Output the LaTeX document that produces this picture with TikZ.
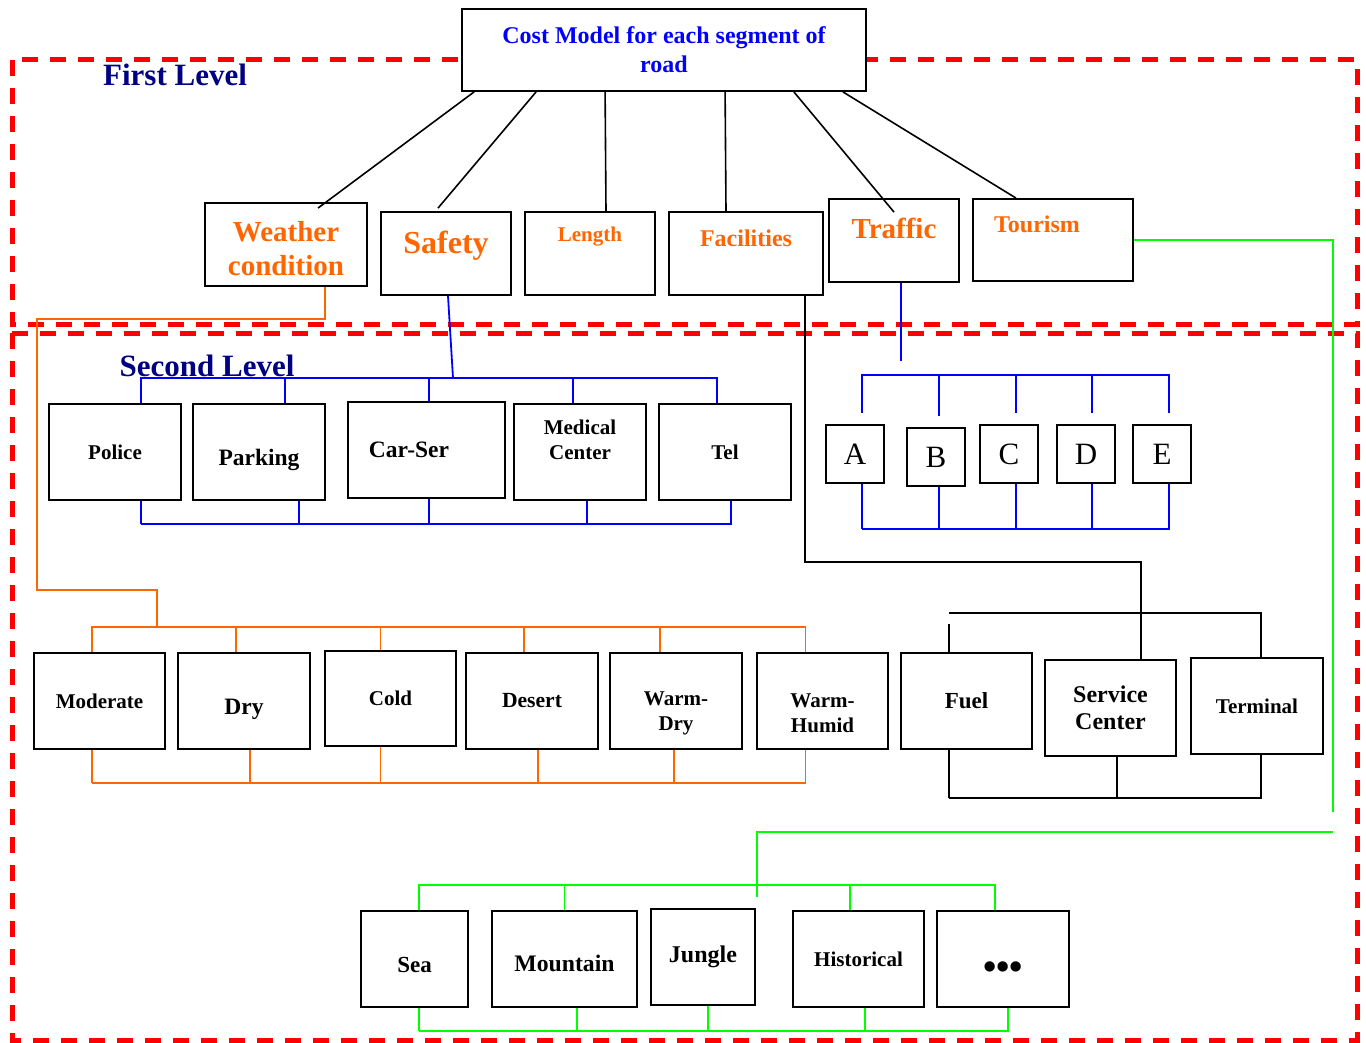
\documentclass[tikz,border=0pt]{standalone}
\usepackage{fontspec}
\setmainfont{Liberation Serif}
\usepackage{tikz}
\usepackage{xcolor}
\definecolor{orng}{HTML}{FF6600}
\definecolor{navy}{HTML}{000080}
\definecolor{tgreen}{HTML}{00FF00}
\newcommand{\fs}[2]{\fontsize{#1}{#2}\selectfont\bfseries}
\tikzset{box/.style={draw,line width=1.8pt,fill=white,inner sep=2pt,align=center,font=\fs{21}{25}}, topbox/.style={box,text=orng,minimum width=130pt,minimum height=83pt}, cell/.style={box,minimum width=132pt,minimum height=96pt}, letterbox/.style={box,minimum width=58pt,minimum height=58pt,font=\fontsize{31}{37}\selectfont}, lift/.style={text depth=#1}, sink/.style={text height=#1}, levelbox/.style={draw=red,line width=5pt,dash pattern=on 16pt off 12pt}, leveltitle/.style={text=navy,font=\fs{31}{36}}, link/.style={line width=1.6pt,black}, blueline/.style={line width=1.8pt,blue}, orangeline/.style={line width=1.8pt,orng}, greenline/.style={line width=1.8pt,tgreen}}
\begin{document}
\begin{tikzpicture}[x=1pt,y=-1pt]
\useasboundingbox (0,0) rectangle (1366,1043);
% the two levels
\draw[levelbox] (12,60) rectangle (1357,324);
\draw[levelbox] (12,333) rectangle (1357,1040);
\node[leveltitle] (first) at (175,75) {First Level};
\node[leveltitle] (second) at (207,366) {Second Level};
% root and first level
\node[box,minimum width=404pt,minimum height=82pt,text=blue,font=\fs{24}{29}] (root) at (664,50) {Cost Model for each segment of\\road};
\node[topbox,minimum width=162pt,font=\fs{29}{34},sink=62pt] (weather) at (286,244.5) {Weather\\condition};
\node[topbox,font=\fs{32}{36},lift=22pt] (safety) at (446,253.5) {Safety};
\node[topbox,font=\fs{21}{25},lift=39.5pt] (length) at (590,253.5) {Length};
\node[topbox,minimum width=154pt,font=\fs{24}{28},lift=31.5pt] (facilities) at (746,253.5) {Facilities};
\node[topbox,font=\fs{29}{34},lift=25pt] (traffic) at (894,240.5) {Traffic};
\node[topbox,minimum width=160pt,minimum height=82pt,font=\fs{24}{28},lift=32pt] (tourism) at (1053,240) {Tourism\hspace*{32pt}};
% second level: safety
\node[cell] (police) at (115,452) {Police};
\node[cell,font=\fs{23.5}{28},sink=32pt] (parking) at (259,452) {Parking};
\node[cell,minimum width=157pt,font=\fs{23.5}{28}] (carser) at (426.5,450) {Car-Ser\hspace*{35pt}};
\node[cell,lift=24pt] (medical) at (580,452) {Medical\\Center};
\node[cell] (tel) at (725,452) {Tel};
% second level: traffic
\node[letterbox] (tA) at (855,454) {A};
\node[letterbox] (tB) at (936,457) {B};
\node[letterbox] (tC) at (1009,454) {C};
\node[letterbox] (tD) at (1086,454) {D};
\node[letterbox] (tE) at (1162,454) {E};
% second level: weather and facilities
\node[cell,minimum width=131pt] (moderate) at (99.5,701) {Moderate};
\node[cell,font=\fs{23.5}{28},sink=32pt] (dry) at (244,701) {Dry};
\node[cell,minimum width=131pt,minimum height=95pt] (cold) at (390.5,698.5) {Cold};
\node[cell,font=\fs{21.6}{25}] (desert) at (532,701) {Desert};
\node[cell,sink=63.5pt] (warmdry) at (676,701) {Warm-\\Dry};
\node[cell,minimum width=131pt,sink=63.5pt] (warmhumid) at (822.5,701) {Warm-\\Humid};
\node[cell,minimum width=131pt,font=\fs{23}{27}] (fuel) at (966.5,701) {Fuel};
\node[cell,minimum width=131pt,font=\fs{24}{27}] (service) at (1110.5,708) {Service\\Center};
\node[cell] (terminal) at (1257,706) {Terminal};
% second level: tourism
\node[cell,minimum width=107pt,font=\fs{23}{27},sink=28pt] (sea) at (414.5,959) {Sea};
\node[cell,minimum width=145pt,font=\fs{23.7}{28},sink=26pt] (mountain) at (564.5,959) {Mountain};
\node[cell,minimum width=104pt,font=\fs{24}{28}] (jungle) at (703,957) {Jungle};
\node[cell,minimum width=131pt] (historical) at (858.5,959) {Historical};
\node[cell,font=\fs{38}{42},sink=40pt,text depth=0pt] (more) at (1003,959) {\textbullet\textbullet\textbullet};
% root to first level
\draw[link] ([xshift=13pt]root.south west) -- ([xshift=32pt,yshift=-6pt]weather.north);
\draw[link] ([xshift=75pt]root.south west) -- ([xshift=-8pt,yshift=3pt]safety.north);
\draw[link] ([xshift=144pt]root.south west) -- ([xshift=16pt]length.north);
\draw[link] ([xshift=264pt]root.south west) -- ([xshift=-20pt]facilities.north);
\draw[link] ([xshift=-73pt]root.south east) -- ([yshift=-14pt]traffic.north);
\draw[link] ([xshift=-24pt]root.south east) -- ([xshift=-37pt]tourism.north);
% weather branch
\coordinate (wdown) at (37,319); \coordinate (wturn) at (157,590); \coordinate (wbar) at (157,627); \coordinate (wbot) at (92,783);
\draw[orangeline] ([xshift=39pt]weather.south) |- (wdown) |- (wturn) -- (wbar);
\draw[orangeline] (wbar) -| ([xshift=-7.5pt]moderate.north); \draw[orangeline] (wbar) -| ([xshift=-8pt]dry.north);
\draw[orangeline] (wbar) -| ([xshift=-10pt]cold.north); \draw[orangeline] (wbar) -| ([xshift=-8pt]desert.north);
\draw[orangeline] (wbar) -| ([xshift=-16pt]warmdry.north); \draw[orangeline] (wbar) -| ([xshift=-17pt]warmhumid.north);
\draw[orangeline] ([xshift=-7.5pt]moderate.south) |- (wbot); \draw[orangeline] ([xshift=6pt]dry.south) |- (wbot);
\draw[orangeline] ([xshift=-10pt]cold.south) |- (wbot); \draw[orangeline] ([xshift=6pt]desert.south) |- (wbot);
\draw[orangeline] ([xshift=-2pt]warmdry.south) |- (wbot); \draw[orangeline] ([xshift=-17pt]warmhumid.south) |- (wbot);
% safety branch
\coordinate (sbar) at (453,378); \coordinate (sbot) at (141,524);
\draw[blueline] ([xshift=2pt]safety.south) -- (sbar);
\draw[blueline] (sbar) -| ([xshift=26pt]police.north); \draw[blueline] (sbar) -| ([xshift=26pt]parking.north);
\draw[blueline] (sbar) -| ([xshift=2.5pt]carser.north); \draw[blueline] (sbar) -| ([xshift=-7pt]medical.north);
\draw[blueline] (sbar) -| ([xshift=-8pt]tel.north);
\draw[blueline] ([xshift=26pt]police.south) |- (sbot); \draw[blueline] ([xshift=40pt]parking.south) |- (sbot);
\draw[blueline] ([xshift=2.5pt]carser.south) |- (sbot); \draw[blueline] ([xshift=7pt]medical.south) |- (sbot);
\draw[blueline] ([xshift=6pt]tel.south) |- (sbot);
% traffic branch
\coordinate (tend) at (901,361); \coordinate (tbar) at (1016,375); \coordinate (tbot) at (862,529);
\draw[blueline] ([xshift=7pt]traffic.south) -- (tend);
\draw[blueline,shorten >=11pt] (tbar) -| ([xshift=7pt]tA.north); \draw[blueline,shorten >=11pt] (tbar) -| ([xshift=3pt]tB.north);
\draw[blueline,shorten >=11pt] (tbar) -| ([xshift=7pt]tC.north); \draw[blueline,shorten >=11pt] (tbar) -| ([xshift=6pt]tD.north);
\draw[blueline,shorten >=11pt] (tbar) -| ([xshift=7pt]tE.north);
\draw[blueline] ([xshift=7pt]tA.south) |- (tbot); \draw[blueline] ([xshift=3pt]tB.south) |- (tbot);
\draw[blueline] ([xshift=7pt]tC.south) |- (tbot); \draw[blueline] ([xshift=6pt]tD.south) |- (tbot);
\draw[blueline] ([xshift=7pt]tE.south) |- (tbot);
% facilities branch
\coordinate (fjoin) at (1141,562); \coordinate (fbar) at (949,613); \coordinate (fbot) at (949,798);
\draw[link] ([xshift=59pt]facilities.south) |- (fjoin) -- ([xshift=30.5pt]service.north);
\draw[link] (fbar) -| ([xshift=4pt]terminal.north);
\draw[link] ([xshift=-17.5pt,yshift=28pt]fuel.north) -- ([xshift=-17.5pt]fuel.north);
\draw[link] ([xshift=-17.5pt]fuel.south) |- (fbot); \draw[link] ([xshift=6.5pt]service.south) |- (fbot);
\draw[link] ([xshift=4pt]terminal.south) |- (fbot);
% tourism branch
\coordinate (gend) at (1333,812); \coordinate (gstart) at (1333,832); \coordinate (gdrop) at (757,897); \coordinate (gbar) at (757,885); \coordinate (gbot) at (419,1031);
\draw[greenline] (tourism.east) -| (gend);
\draw[greenline] (gstart) -| (gdrop);
\draw[greenline] (gbar) -| ([xshift=4.5pt]sea.north); \draw[greenline] (gbar) -| (mountain.north);
\draw[greenline] (gbar) -| ([xshift=-8.5pt]historical.north); \draw[greenline] (gbar) -| ([xshift=-8pt]more.north);
\draw[greenline] ([xshift=4.5pt]sea.south) |- (gbot); \draw[greenline] ([xshift=12.5pt]mountain.south) |- (gbot);
\draw[greenline] ([xshift=5pt]jungle.south) |- (gbot); \draw[greenline] ([xshift=6.5pt]historical.south) |- (gbot);
\draw[greenline] ([xshift=5pt]more.south) |- (gbot);
\end{tikzpicture}
\end{document}
